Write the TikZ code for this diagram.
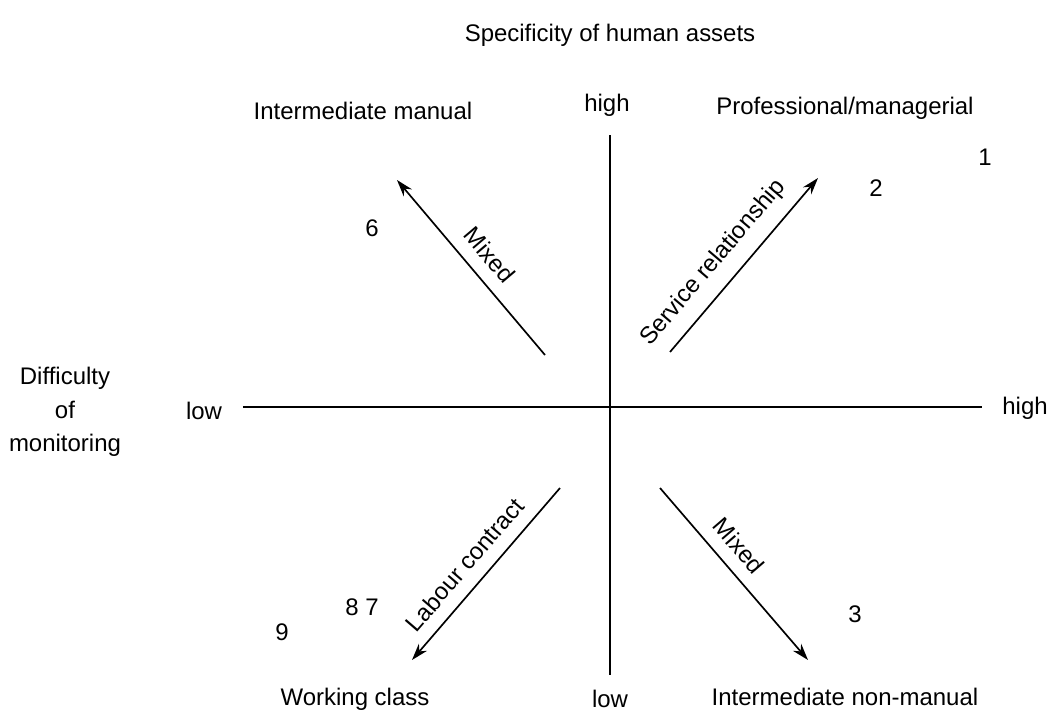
\documentclass[tikz,border=0pt]{standalone}
\usepackage{fontspec}
\setmainfont{Liberation Sans}
\usetikzlibrary{arrows.meta}

\begin{document}
\begin{tikzpicture}[x=1.466cm,y=1.466cm,
  axis/.style={line width=0.8pt},
  trend/.style={line width=0.7pt},
  tip/.style={-{Stealth[length=7pt,width=4.5pt]}},
  pit/.style={{Stealth[length=7pt,width=4.5pt]}-},
  lbl/.style={font=\fontsize{10}{14}\selectfont}]
\useasboundingbox (-6.10,-3.05) rectangle (4.50,4.07);

% titles and axis ends
\node[lbl] (title) at (0,3.72) {Specificity of human assets};
\node[lbl] (yhigh) at (-0.03,3.02) {high};
\node[lbl] (ylow) at (0,-2.92) {low};
\node[lbl] (xlow) at (-4.06,-0.04) {low};
\node[lbl] (xhigh) at (4.15,-0.01) {high};
\node[lbl,align=center] (monitor) at (-5.45,-0.05) {Difficulty\\of\\monitoring};

% the two axes
\coordinate (vtop) at (0,2.72);
\coordinate (vbot) at (0,-2.68);
\coordinate (hleft) at (-3.67,0);
\coordinate (hright) at (3.72,0);
\draw[axis] (vtop) -- (vbot);
\draw[axis] (hleft) -- (hright);

% corner groups
\node[lbl] (intman) at (-2.47,2.96) {Intermediate manual};
\node[lbl] (prof) at (2.35,2.99) {Professional/managerial};
\node[lbl] (work) at (-2.55,-2.92) {Working class};
\node[lbl] (intnon) at (2.35,-2.90) {Intermediate non-manual};

% class numbers
\node[lbl] (n1) at (3.75,2.50) {1};
\node[lbl] (n2) at (2.66,2.19) {2};
\node[lbl] (n6) at (-2.38,1.79) {6};
\node[lbl] (n87) at (-2.48,-2.00) {8 7};
\node[lbl] (n9) at (-3.28,-2.25) {9};
\node[lbl] (n3) at (2.45,-2.07) {3};

% arrows
\coordinate (ulhead) at (-2.13,2.27);
\coordinate (ultail) at (-0.65,0.52);
\coordinate (urtail) at (0.60,0.55);
\coordinate (urhead) at (2.08,2.29);
\coordinate (llhead) at (-1.98,-2.53);
\coordinate (lltail) at (-0.50,-0.81);
\coordinate (lrtail) at (0.50,-0.81);
\coordinate (lrhead) at (1.98,-2.53);

\draw[trend,pit] (ulhead) -- node[lbl,pos=0.51,sloped,above=2pt] {Mixed} (ultail);
\draw[trend,tip] (urtail) -- node[lbl,pos=0.42,sloped,above=2pt] {Service relationship} (urhead);
\draw[trend,pit] (llhead) -- node[lbl,pos=0.47,sloped,above=2pt] {Labour contract} (lltail);
\draw[trend,tip] (lrtail) -- node[lbl,pos=0.42,sloped,above=2pt] {Mixed} (lrhead);
\end{tikzpicture}
\end{document}
